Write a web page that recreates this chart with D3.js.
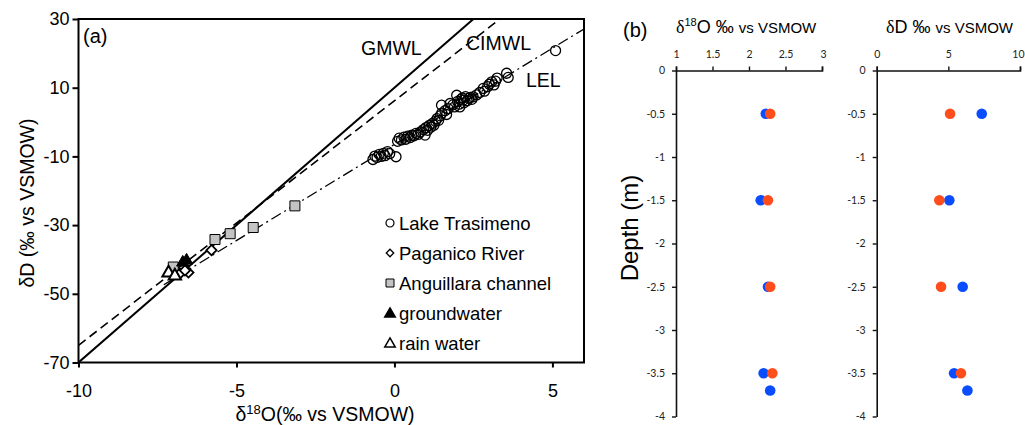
<!DOCTYPE html>
<html>
<head>
<meta charset="utf-8">
<script src="https://cdn.jsdelivr.net/npm/d3@7"></script>
<style>
body { margin: 0; background: #fff; }
svg { display: block; font-family: "Liberation Sans", Arial, sans-serif; }
</style>
</head>
<body>
<svg width="1025" height="425"></svg>
<script>
// Panel (a): d18O vs dD, one [d18O, dD] pair per sample.
var lakeTrasimeno = [
    [-0.68, -10.9], [-0.62, -9.9], [-0.55, -10.3], [-0.48, -9.4], [-0.42, -10.0],
    [-0.35, -9.1], [-0.3, -9.8], [-0.22, -8.6], [-0.15, -9.2], [0.05, -10.1],
    [0.1, -5.6], [0.15, -4.7], [0.22, -5.2], [0.3, -4.4], [0.36, -5.0],
    [0.42, -4.1], [0.5, -4.5], [0.55, -3.8], [0.62, -4.0], [0.68, -3.3],
    [0.75, -3.6], [0.82, -2.9], [0.97, -3.8], [0.92, -2.2], [1.0, -1.6],
    [1.05, -2.4], [1.1, -1.0], [1.15, -1.5], [1.2, -0.4], [1.25, -0.9],
    [1.3, 0.2], [1.35, 1.0], [1.4, 0.5], [1.45, 1.8], [1.5, 2.6],
    [1.49, 4.9], [1.6, 3.3], [1.65, 2.2], [1.7, 3.9], [1.76, 5.4],
    [1.85, 5.0], [1.9, 4.4], [1.97, 7.8], [2.0, 6.0], [2.05, 5.2],
    [2.07, 4.4], [2.1, 6.6], [2.15, 7.0], [2.18, 6.4], [2.2, 5.6],
    [2.25, 7.4], [2.3, 6.2], [2.35, 6.9], [2.4, 7.2], [2.45, 6.6],
    [2.49, 7.35], [2.6, 7.9], [2.7, 8.6], [2.81, 9.8], [2.85, 9.0],
    [2.95, 10.3], [3.0, 11.0], [3.08, 11.7], [3.15, 10.8], [3.2, 11.9],
    [3.25, 12.8], [3.55, 14.2], [3.6, 13.0], [5.1, 20.8]
];
var paganicoRiver = [[-6.52, -43.8], [-6.79, -44.1], [-6.63, -43.2], [-5.79, -37.3]];
var anguillaraChannel = [[-7.0, -42.2], [-5.68, -34.2], [-5.2, -32.5], [-4.47, -30.7], [-3.15, -24.4]];
var groundwater = [[-6.58, -40.3], [-6.7, -40.9]];
var rainWater = [[-7.15, -43.9], [-6.95, -44.8]];

// meteoric / evaporation lines: dD = slope * d18O + intercept
var lineNames = ["GMWL", "CIMWL", "LEL"];
var lineSlopes = [8, 7.12, 5.6];
var lineIntercepts = [10, 6.2, -6.5];
var lineStarts = [-10, -10, -7.3];

var xTicksA = [-10, -5, 0, 5];
var yTicksA = [30, 10, -10, -30, -50, -70];

// Panel (b): depth profiles, two series per panel.
var depths = [-0.5, -1.5, -2.5, -3.5, -3.7];
var d18OBlue = [2.23, 2.16, 2.26, 2.20, 2.29];
var d18OOrange = [2.29, 2.26, 2.29, 2.32, null];
var dDBlue = [7.33, 5.07, 6.0, 5.40, 6.33];
var dDOrange = [5.12, 4.37, 4.49, 5.88, null];
var depthTicks = [0, -0.5, -1, -1.5, -2, -2.5, -3, -3.5, -4];
var d18OTicks = [1, 1.5, 2, 2.5, 3];
var dDTicks = [0, 5, 10];

var svg = d3.select("svg");
var plain = function (d) { return String(d); };  // keep the plain hyphen minus

// ---------- panel (a) ----------
var ax = d3.scaleLinear().domain([-10, 6]).range([78.5, 584]);
var ay = d3.scaleLinear().domain([-70, 30]).range([362.5, 19]);

svg.append("clipPath").attr("id", "clipA")
    .append("rect").attr("x", 78.5).attr("y", 19).attr("width", 584 - 78.5).attr("height", 362.5 - 19);

var gA = svg.append("g");

var xAxisA = gA.append("g").attr("transform", "translate(0,362.5)")
    .call(d3.axisBottom(ax).tickValues(xTicksA).tickSizeInner(5).tickSizeOuter(0).tickPadding(17).tickFormat(plain));
var yAxisA = gA.append("g").attr("transform", "translate(78.5,0)")
    .call(d3.axisLeft(ay).tickValues(yTicksA).tickSizeInner(6).tickSizeOuter(0).tickPadding(3).tickFormat(plain));
[xAxisA, yAxisA].forEach(function (a) {
    a.select(".domain").remove();
    a.selectAll("line").attr("stroke", "#000").attr("stroke-width", 2);
    a.selectAll("text").attr("font-size", 18).attr("fill", "#000")
        .attr("font-family", "Liberation Sans, Arial, sans-serif");
});

gA.append("rect").attr("x", 78.5).attr("y", 19).attr("width", 584 - 78.5).attr("height", 362.5 - 19)
    .attr("fill", "none").attr("stroke", "#000").attr("stroke-width", 2);

var dashes = [null, "9,5", "11,4,2,4"];
var widths = [2, 1.6, 1.3];
var lines = gA.append("g").attr("clip-path", "url(#clipA)");
lineNames.forEach(function (name, i) {
    var x0 = lineStarts[i], x1 = 6;
    lines.append("line")
        .attr("x1", ax(x0)).attr("y1", ay(lineSlopes[i] * x0 + lineIntercepts[i]))
        .attr("x2", ax(x1)).attr("y2", ay(lineSlopes[i] * x1 + lineIntercepts[i]))
        .attr("stroke", "#000").attr("stroke-width", widths[i])
        .attr("stroke-dasharray", dashes[i]);
});

var labelPos = [[361, 55], [466, 50], [526, 87]];
lineNames.forEach(function (name, i) {
    gA.append("text").attr("x", labelPos[i][0]).attr("y", labelPos[i][1])
        .attr("font-size", 19.5).text(name);
});

gA.append("text").attr("x", 83).attr("y", 43).attr("font-size", 20).text("(a)");

function place(rot) {
    return function (d) {
        return "translate(" + ax(d[0]) + "," + ay(d[1]) + ")" + (rot ? " rotate(" + rot + ")" : "");
    };
}

var pts = gA.append("g");
pts.selectAll(".lake").data(lakeTrasimeno).enter().append("circle")
    .attr("cx", function (d) { return ax(d[0]); })
    .attr("cy", function (d) { return ay(d[1]); })
    .attr("r", 5).attr("fill", "none").attr("stroke", "#000").attr("stroke-width", 1.3);

pts.selectAll(".ang").data(anguillaraChannel).enter().append("path")
    .attr("d", d3.symbol(d3.symbolSquare, 100))
    .attr("transform", place())
    .attr("fill", "#c4c4c4").attr("stroke", "#000").attr("stroke-width", 1);

pts.selectAll(".pag").data(paganicoRiver).enter().append("path")
    .attr("d", d3.symbol(d3.symbolSquare, 52))
    .attr("transform", place(45))
    .attr("fill", "#fff").attr("stroke", "#000").attr("stroke-width", 1.8);

pts.selectAll(".gw").data(groundwater).enter().append("path")
    .attr("d", d3.symbol(d3.symbolTriangle, 66))
    .attr("transform", place())
    .attr("fill", "#000").attr("stroke", "#000").attr("stroke-width", 1);

pts.selectAll(".rain").data(rainWater).enter().append("path")
    .attr("d", d3.symbol(d3.symbolTriangle, 66))
    .attr("transform", place())
    .attr("fill", "#fff").attr("stroke", "#000").attr("stroke-width", 2);

// legend
var legendNames = ["Lake Trasimeno", "Paganico River", "Anguillara channel", "groundwater", "rain water"];
var legend = gA.append("g").attr("transform", "translate(390,223)");
legendNames.forEach(function (name, i) {
    var row = legend.append("g").attr("transform", "translate(0," + (i * 30) + ")");
    if (i === 0) {
        row.append("circle").attr("r", 4).attr("fill", "none").attr("stroke", "#000").attr("stroke-width", 1.2);
    } else if (i === 1) {
        row.append("path").attr("d", d3.symbol(d3.symbolSquare, 28)()).attr("transform", "rotate(45)")
            .attr("fill", "#fff").attr("stroke", "#000").attr("stroke-width", 1.3);
    } else if (i === 2) {
        row.append("path").attr("d", d3.symbol(d3.symbolSquare, 64)())
            .attr("fill", "#c4c4c4").attr("stroke", "#000").attr("stroke-width", 1);
    } else {
        row.append("path").attr("d", d3.symbol(d3.symbolTriangle, 48)()).attr("transform", "translate(0,1)")
            .attr("fill", i === 3 ? "#000" : "#fff").attr("stroke", "#000").attr("stroke-width", 1.5);
    }
    row.append("text").attr("x", 9).attr("y", 7).attr("font-size", 18.5).text(name);
});

// axis titles
var xt = gA.append("text").attr("x", 325).attr("y", 421).attr("text-anchor", "middle").attr("font-size", 19.5);
xt.append("tspan").text("δ");
xt.append("tspan").attr("dy", -7).attr("font-size", 13).text("18");
xt.append("tspan").attr("dy", 7).text("O(‰ vs VSMOW)");

gA.append("text").attr("transform", "translate(34,203) rotate(-90)").attr("text-anchor", "middle")
    .attr("font-size", 19.5).text("δD (‰ vs VSMOW)");

// ---------- panel (b) ----------
var by = d3.scaleLinear().domain([-4, 0]).range([416.5, 70.5]);
var bx1 = d3.scaleLinear().domain([1, 3]).range([676, 822]);
var bx2 = d3.scaleLinear().domain([0, 10]).range([876.7, 1020]);

var blue = "#0a4dff", orange = "#ff4d1c";

function profile(xs, ticks, blueVals, orangeVals) {
    var g = svg.append("g").attr("font-family", "Lato, 'Open Sans', sans-serif");
    var top = g.append("g").attr("transform", "translate(0," + by(0) + ")")
        .call(d3.axisTop(xs).tickValues(ticks).tickSizeInner(4).tickSizeOuter(4).tickPadding(9).tickFormat(plain));
    var left = g.append("g").attr("transform", "translate(" + xs.range()[0] + ",0)")
        .call(d3.axisLeft(by).tickValues(depthTicks).tickSizeInner(4).tickSizeOuter(0).tickPadding(7).tickFormat(plain));
    [top, left].forEach(function (a) {
        a.select(".domain").attr("stroke", "#111").attr("stroke-width", 1.6);
        a.selectAll("line").attr("stroke", "#111").attr("stroke-width", 1.4);
        a.selectAll("text").attr("font-size", 10.5).attr("fill", "#222").attr("font-family", "Lato, 'Open Sans', sans-serif");
    });
    // last label sits at the window edge; nudge it inside
    top.selectAll(".tick:last-of-type text").attr("text-anchor", "end").attr("dx", 4);
    g.selectAll(".b").data(depths).enter().append("circle")
        .attr("cx", function (d, i) { return xs(blueVals[i]); })
        .attr("cy", function (d) { return by(d); })
        .attr("r", 5.3).attr("fill", blue);
    g.selectAll(".o").data(depths.filter(function (d, i) { return orangeVals[i] != null; })).enter().append("circle")
        .attr("cx", function (d, i) { return xs(orangeVals[i]); })
        .attr("cy", function (d) { return by(d); })
        .attr("r", 5.3).attr("fill", orange);
}

profile(bx1, d18OTicks, d18OBlue, d18OOrange);
profile(bx2, dDTicks, dDBlue, dDOrange);

svg.append("text").attr("x", 623).attr("y", 37).attr("font-size", 20).text("(b)");

var t1 = svg.append("text").attr("x", 676).attr("y", 33).attr("font-size", 18);
t1.append("tspan").attr("font-family", "Liberation Serif, serif").text("δ");
t1.append("tspan").attr("dy", -7).attr("font-size", 11).text("18");
t1.append("tspan").attr("dy", 7).text("O ‰  ");
t1.append("tspan").attr("font-size", 15).text("vs VSMOW");

var t2 = svg.append("text").attr("x", 886).attr("y", 33).attr("font-size", 18);
t2.append("tspan").attr("font-family", "Liberation Serif, serif").text("δ");
t2.append("tspan").text("D ‰ ");
t2.append("tspan").attr("font-size", 15).text("vs VSMOW");

svg.append("text").attr("transform", "translate(638,228) rotate(-90)").attr("text-anchor", "middle")
    .attr("font-size", 24).text("Depth (m)");
</script>
</body>
</html>
